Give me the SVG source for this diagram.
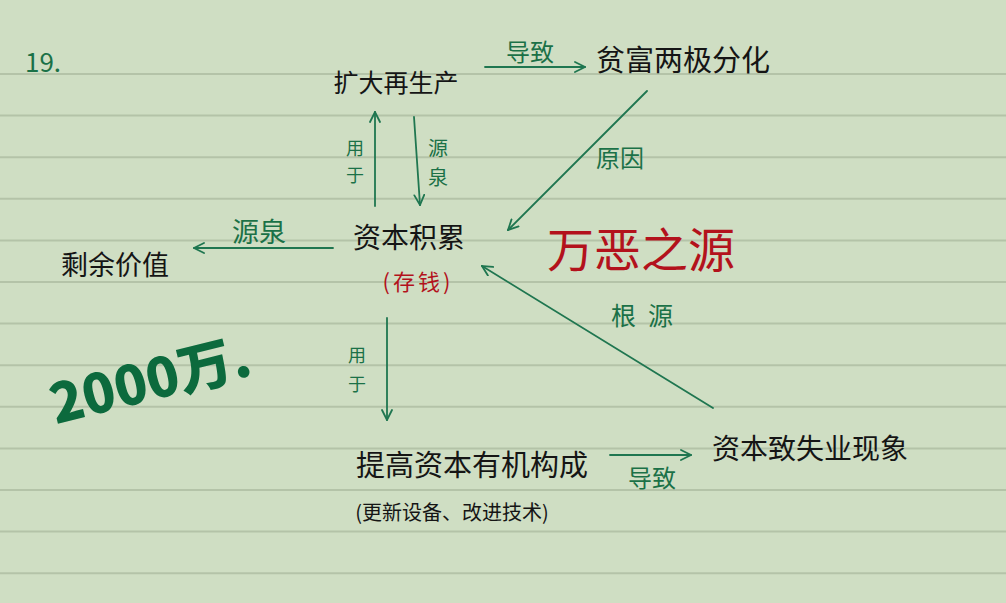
<svg xmlns="http://www.w3.org/2000/svg" width="1006" height="603" viewBox="0 0 1006 603">
<style>
.bg{fill:#cfdec3}
.rule{stroke:#b4c3a8;stroke-width:2}
.t{font-family:"Noto Sans CJK SC","Liberation Sans",sans-serif;fill:#151515}
.g{font-family:"Noto Sans CJK SC","Liberation Sans",sans-serif;fill:#1b7147}
.r{font-family:"Noto Sans CJK SC","Liberation Sans",sans-serif;fill:#b3121c}
.c{fill:none;stroke:#1f7650;stroke-width:1.8;stroke-linecap:round}
</style>
<defs>
<marker id="ah" viewBox="0 0 12 12" refX="11" refY="6" markerWidth="12" markerHeight="12" markerUnits="userSpaceOnUse" orient="auto">
<path d="M1,1 L11,6 L1,11" fill="none" stroke="#1f7650" stroke-width="1.8" stroke-linecap="round"/>
</marker>
</defs>
<rect class="bg" x="0" y="0" width="1006" height="603"/>
<g id="paper-lines">
<line class="rule" x1="0" y1="74" x2="1006" y2="74"/>
<line class="rule" x1="0" y1="115.6" x2="1006" y2="115.6"/>
<line class="rule" x1="0" y1="157.2" x2="1006" y2="157.2"/>
<line class="rule" x1="0" y1="198.8" x2="1006" y2="198.8"/>
<line class="rule" x1="0" y1="240.4" x2="1006" y2="240.4"/>
<line class="rule" x1="0" y1="282" x2="1006" y2="282"/>
<line class="rule" x1="0" y1="323.6" x2="1006" y2="323.6"/>
<line class="rule" x1="0" y1="365.2" x2="1006" y2="365.2"/>
<line class="rule" x1="0" y1="406.8" x2="1006" y2="406.8"/>
<line class="rule" x1="0" y1="448.4" x2="1006" y2="448.4"/>
<line class="rule" x1="0" y1="490" x2="1006" y2="490"/>
<line class="rule" x1="0" y1="531.6" x2="1006" y2="531.6"/>
<line class="rule" x1="0" y1="573.2" x2="1006" y2="573.2"/>
</g>
<g id="connectors">
<line class="c" x1="485" y1="67" x2="585" y2="67" marker-end="url(#ah)"/>
<line class="c" x1="375" y1="206" x2="375" y2="112" marker-end="url(#ah)"/>
<line class="c" x1="414" y1="117" x2="420" y2="205" marker-end="url(#ah)"/>
<line class="c" x1="647" y1="91" x2="508" y2="230" marker-end="url(#ah)"/>
<line class="c" x1="333" y1="248" x2="194" y2="248" marker-end="url(#ah)"/>
<line class="c" x1="387" y1="318" x2="387" y2="420" marker-end="url(#ah)"/>
<line class="c" x1="610" y1="455" x2="691" y2="455" marker-end="url(#ah)"/>
<line class="c" x1="713" y1="408" x2="482" y2="266" marker-end="url(#ah)"/>
<text class="g" x="530" y="61" font-size="24" text-anchor="middle">导致</text>
<text class="g" x="355" y="155" font-size="18" text-anchor="middle">用</text>
<text class="g" x="355" y="182" font-size="18" text-anchor="middle">于</text>
<text class="g" x="438" y="156" font-size="20" text-anchor="middle">源</text>
<text class="g" x="438" y="185" font-size="20" text-anchor="middle">泉</text>
<text class="g" x="620" y="167" font-size="24" text-anchor="middle">原因</text>
<text class="g" x="259" y="242" font-size="27" text-anchor="middle">源泉</text>
<text class="g" x="357" y="362" font-size="18" text-anchor="middle">用</text>
<text class="g" x="357" y="391" font-size="18" text-anchor="middle">于</text>
<text class="g" x="652" y="487" font-size="24" text-anchor="middle">导致</text>
<text class="g" x="648" y="325" font-size="25" text-anchor="middle" letter-spacing="12">根源</text>
</g>
<g id="n-number"><text class="g" x="43" y="72" font-size="26" text-anchor="middle" font-family="Liberation Sans">19.</text></g>
<g id="n-kuoda"><text class="t" x="396" y="92" font-size="25" text-anchor="middle">扩大再生产</text></g>
<g id="n-pinfu"><text class="t" x="683" y="71" font-size="29" text-anchor="middle">贫富两极分化</text></g>
<g id="n-ziben"><text class="t" x="409" y="248" font-size="28" text-anchor="middle">资本积累</text>
<text class="r" x="418" y="290" font-size="22" text-anchor="middle" letter-spacing="3">(存钱)</text></g>
<g id="n-shengyu"><text class="t" x="115" y="275" font-size="27" text-anchor="middle">剩余价值</text></g>
<g id="n-wane"><text class="r" x="641" y="267" font-size="47" text-anchor="middle">万恶之源</text></g>
<g id="n-2000"><text x="150" y="400" font-size="54" font-weight="900" text-anchor="middle" fill="#0c6a3d" font-family="Noto Sans CJK SC, Liberation Sans, sans-serif" transform="rotate(-14 150 380)">2000万.</text></g>
<g id="n-tigao"><text class="t" x="472" y="476" font-size="29" text-anchor="middle">提高资本有机构成</text>
<text class="t" x="452" y="520" font-size="20" text-anchor="middle">(更新设备、改进技术)</text></g>
<g id="n-shiye"><text class="t" x="810" y="459" font-size="28" text-anchor="middle">资本致失业现象</text></g>
</svg>
